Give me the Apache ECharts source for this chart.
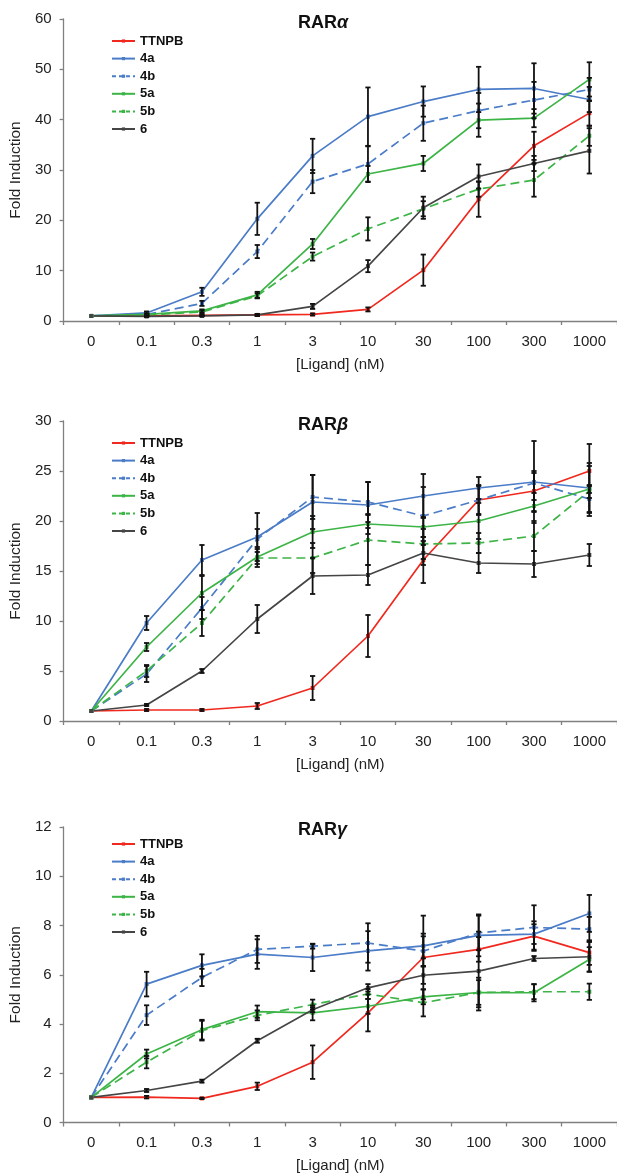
<!DOCTYPE html>
<html>
<head>
<meta charset="utf-8">
<script src="https://cdn.jsdelivr.net/npm/echarts@6/dist/echarts.min.js"></script>
<style>
html,body{margin:0;padding:0;background:#fff;}
#chart{width:617px;height:1176px;}
</style>
</head>
<body>
<div id="chart"></div>
<script>
// ---------- data ----------
const categories = ['0', '0.1', '0.3', '1', '3', '10', '30', '100', '300', '1000'];
const seriesNames = ['TTNPB', '4a', '4b', '5a', '5b', '6'];
const panelTitles = ['α', 'β', 'γ'];

// RARα
const alphaTTNPB = [1.0, 1.0, 1.1, 1.2, 1.3, 2.3, 10.1, 24.2, 34.8, 41.3];
const alphaTTNPBErr = [0, 0.1, 0.1, 0.2, 0.2, 0.4, 3.1, 3.5, 2.8, 2.5];
const alpha4a = [1.0, 1.6, 5.8, 20.3, 32.8, 40.6, 43.6, 46.0, 46.2, 44.0];
const alpha4aErr = [0, 0.3, 0.8, 3.2, 3.4, 5.8, 3.0, 4.5, 5.0, 2.5];
const alpha4b = [1.0, 1.3, 3.5, 13.8, 27.7, 31.2, 39.3, 41.8, 43.9, 46.0];
const alpha4bErr = [0, 0.2, 0.5, 1.3, 2.3, 3.5, 3.5, 3.5, 3.6, 2.3];
const alpha5a = [1.0, 1.3, 2.0, 5.2, 15.3, 29.2, 31.3, 39.9, 40.3, 48.0];
const alpha5aErr = [0, 0.2, 0.3, 0.6, 1.0, 1.6, 1.5, 3.3, 1.8, 3.4];
const alpha5b = [1.0, 1.2, 1.8, 5.0, 12.8, 18.3, 22.3, 26.2, 28.0, 36.8];
const alpha5bErr = [0, 0.2, 0.3, 0.5, 0.8, 2.3, 1.5, 1.5, 3.3, 2.0];
const alpha6 = [1.0, 0.9, 1.0, 1.2, 2.9, 10.9, 22.5, 28.7, 31.3, 33.8];
const alpha6Err = [0, 0.1, 0.1, 0.2, 0.5, 1.2, 2.2, 2.4, 1.5, 4.5];

// RARβ
const betaTTNPB = [1.0, 1.1, 1.1, 1.5, 3.3, 8.5, 16.1, 22.1, 23.0, 25.0];
const betaTTNPBErr = [0, 0.1, 0.1, 0.3, 1.2, 2.1, 2.3, 1.4, 2.0, 2.7];
const beta4a = [1.0, 9.8, 16.1, 18.4, 21.9, 21.6, 22.5, 23.3, 23.9, 23.3];
const beta4aErr = [0, 0.7, 1.5, 2.4, 2.7, 2.3, 2.2, 1.1, 4.1, 2.5];
const beta4b = [1.0, 4.7, 11.3, 18.2, 22.4, 21.9, 20.5, 22.1, 23.8, 22.2];
const beta4bErr = [0, 0.8, 1.1, 1.0, 2.2, 2.0, 2.9, 1.5, 1.0, 1.3];
const beta5a = [1.0, 7.4, 12.8, 16.4, 18.9, 19.7, 19.4, 20.0, 21.5, 23.2];
const beta5aErr = [0, 0.4, 1.7, 1.0, 1.6, 1.0, 1.0, 1.8, 0.6, 0.4];
const beta5b = [1.0, 5.0, 9.8, 16.3, 16.3, 18.1, 17.7, 17.8, 18.5, 23.0];
const beta5bErr = [0, 0.6, 1.3, 0.6, 1.5, 2.5, 1.5, 1.0, 1.5, 2.5];
const beta6 = [1.0, 1.6, 5.0, 10.2, 14.5, 14.6, 16.8, 15.8, 15.7, 16.6];
const beta6Err = [0, 0.1, 0.2, 1.4, 1.8, 1.0, 1.2, 1.0, 1.3, 1.1];

// RARγ
const gammaTTNPB = [1.02, 1.03, 0.98, 1.47, 2.45, 4.45, 6.70, 7.03, 7.57, 6.90];
const gammaTTNPBErr = [0, 0.05, 0.03, 0.15, 0.68, 0.75, 1.7, 0.5, 0.6, 0.5];
const gamma4a = [1.02, 5.62, 6.38, 6.84, 6.70, 6.97, 7.17, 7.60, 7.65, 8.49];
const gamma4aErr = [0, 0.5, 0.45, 0.6, 0.55, 0.8, 0.5, 0.85, 0.4, 0.75];
const gamma4b = [1.02, 4.36, 5.89, 7.03, 7.16, 7.29, 6.96, 7.70, 7.92, 7.85];
const gamma4bErr = [0, 0.4, 0.35, 0.55, 0.1, 0.8, 0.6, 0.7, 0.9, 0.5];
const gamma5a = [1.02, 2.78, 3.77, 4.50, 4.45, 4.72, 5.10, 5.28, 5.27, 6.62];
const gamma5aErr = [0, 0.18, 0.4, 0.25, 0.3, 0.3, 0.3, 0.6, 0.35, 0.5];
const gamma5b = [1.02, 2.45, 3.73, 4.35, 4.79, 5.22, 4.86, 5.28, 5.31, 5.31];
const gamma5bErr = [0, 0.25, 0.4, 0.2, 0.2, 0.2, 0.55, 0.5, 0.3, 0.33];
const gamma6 = [1.02, 1.30, 1.68, 3.32, 4.58, 5.47, 5.98, 6.15, 6.66, 6.73];
const gamma6Err = [0, 0.06, 0.06, 0.08, 0.1, 0.15, 0.35, 1.6, 0.1, 0.6];

const yMax = [60, 30, 12];
const yStep = [10, 5, 2];

// ---------- build ----------
const panelValues = [
  [alphaTTNPB, alpha4a, alpha4b, alpha5a, alpha5b, alpha6],
  [betaTTNPB, beta4a, beta4b, beta5a, beta5b, beta6],
  [gammaTTNPB, gamma4a, gamma4b, gamma5a, gamma5b, gamma6]
];
const panelErrors = [
  [alphaTTNPBErr, alpha4aErr, alpha4bErr, alpha5aErr, alpha5bErr, alpha6Err],
  [betaTTNPBErr, beta4aErr, beta4bErr, beta5aErr, beta5bErr, beta6Err],
  [gammaTTNPBErr, gamma4aErr, gamma4bErr, gamma5aErr, gamma5bErr, gamma6Err]
];

const colors = ['#f0281e', '#4a7cc8', '#4a7cc8', '#3cb446', '#3cb446', '#454545'];
const dashed = [false, false, true, false, true, false];

const grids = [
  {left: 63, top: 19, width: 557, height: 302},
  {left: 63, top: 421, width: 557, height: 300},
  {left: 63, top: 827, width: 557, height: 295.5}
];

const font = 'Liberation Sans, Arial, sans-serif';
const axisColor = '#808080';

const xAxes = grids.map((g, i) => ({
  type: 'category', gridIndex: i, data: categories, boundaryGap: true,
  name: '[Ligand] (nM)', nameLocation: 'middle', nameGap: 36,
  nameTextStyle: {fontFamily: font, fontSize: 15, color: '#222'},
  axisLine: {lineStyle: {color: axisColor, width: 1.3}},
  axisTick: {show: true, length: 4, inside: false, alignWithLabel: false, lineStyle: {color: axisColor, width: 1.3}},
  axisLabel: {interval: 0, margin: 13, fontFamily: font, fontSize: 15, color: '#222'},
  splitLine: {show: false}
}));

const yAxes = grids.map((g, i) => ({
  type: 'value', gridIndex: i, min: 0, max: yMax[i], interval: yStep[i],
  name: 'Fold Induction', nameLocation: 'middle', nameGap: 32,
  nameTextStyle: {fontFamily: font, fontSize: 15.5, color: '#222'},
  axisLine: {show: true, lineStyle: {color: axisColor, width: 1.3}},
  axisTick: {show: true, length: 4, lineStyle: {color: axisColor, width: 1.3}},
  axisLabel: {margin: 12, fontFamily: font, fontSize: 15, color: '#222'},
  splitLine: {show: false}
}));

function renderErr(params, api) {
  const x = api.value(0), lo = api.value(1), hi = api.value(2);
  if (hi - lo <= 0) return null;
  const p1 = api.coord([x, lo]);
  const p2 = api.coord([x, hi]);
  const w = 2.6;
  const style = {stroke: '#111', lineWidth: 1.8};
  return {
    type: 'group',
    children: [
      {type: 'line', shape: {x1: p1[0], y1: p1[1], x2: p2[0], y2: p2[1]}, style: style},
      {type: 'line', shape: {x1: p1[0] - w, y1: p1[1], x2: p1[0] + w, y2: p1[1]}, style: style},
      {type: 'line', shape: {x1: p2[0] - w, y1: p2[1], x2: p2[0] + w, y2: p2[1]}, style: style}
    ]
  };
}

const series = [];
for (let p = 0; p < 3; p++) {
  seriesNames.forEach((name, s) => {
    series.push({
      type: 'line', name: name, xAxisIndex: p, yAxisIndex: p,
      data: panelValues[p][s],
      symbol: 'rect', symbolSize: 4, showSymbol: true,
      lineStyle: {color: colors[s], width: 1.7, type: dashed[s] ? [9, 5] : 'solid'},
      itemStyle: {color: colors[s]},
      z: 2, animation: false
    });
  });
  seriesNames.forEach((name, s) => {
    const vals = panelValues[p][s];
    const errs = panelErrors[p][s];
    series.push({
      type: 'custom', name: name + ' error', xAxisIndex: p, yAxisIndex: p,
      data: vals.map((v, i) => [i, v - errs[i], v + errs[i]]),
      encode: {x: 0, y: [1, 2]},
      renderItem: renderErr, z: 3, animation: false, silent: true
    });
  });
}

const titleTops = [14, 416, 821];
const legendTops = [34, 436, 837];

const legendData = seriesNames.map((n, s) => ({
  name: n,
  lineStyle: {color: colors[s], width: 2, type: dashed[s] ? [4, 3] : 'solid'}
}));

const option = {
  backgroundColor: '#fff',
  animation: false,
  title: panelTitles.map((t, i) => ({
    text: '{a|RAR}{b|' + t + '}',
    left: 298, top: titleTops[i], padding: 0,
    textStyle: {
      rich: {
        a: {fontFamily: font, fontSize: 18, fontWeight: 'bold', color: '#111'},
        b: {fontFamily: font, fontSize: 18, fontWeight: 'bold', fontStyle: 'italic', color: '#111'}
      }
    }
  })),
  legend: legendTops.map(t => ({
    data: legendData, orient: 'vertical', left: 111, top: t, padding: 0,
    itemWidth: 23, itemHeight: 4, itemGap: 3.6,
    textStyle: {fontFamily: font, fontSize: 13, fontWeight: 'bold', color: '#111', lineHeight: 14},
    selectedMode: false
  })),
  grid: grids,
  xAxis: xAxes,
  yAxis: yAxes,
  series: series
};

const chart = echarts.init(document.getElementById('chart'), null, {renderer: 'canvas'});
chart.setOption(option);
</script>
</body>
</html>
